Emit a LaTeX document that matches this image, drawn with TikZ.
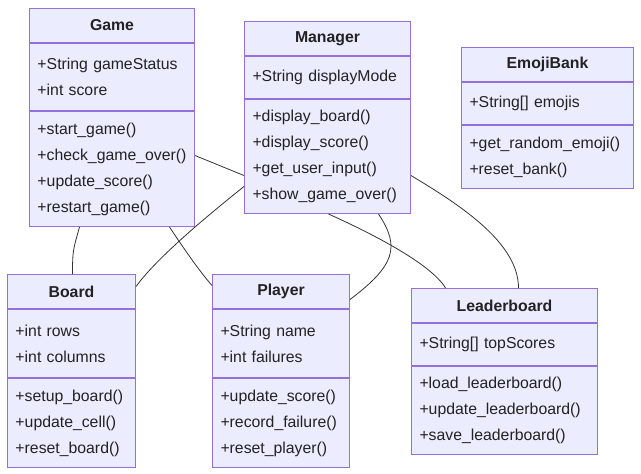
\documentclass[tikz,border=0pt]{standalone}
\usepackage{fontspec}
\setmainfont{Liberation Sans}
\usetikzlibrary{positioning}

\definecolor{umlfill}{HTML}{ECECFF}
\definecolor{umlline}{HTML}{9370DB}
\definecolor{umltext}{HTML}{222222}
\definecolor{umledge}{HTML}{333333}

\tikzset{
  cbox/.style={draw=umlline, fill=umlfill, line width=1pt, inner ysep=0pt, text=umltext},
  ctitle/.style={cbox, font=\fontsize{15.8}{26}\selectfont\bfseries, anchor=north west, inner xsep=0pt, minimum height=34pt},
  cpart/.style={cbox, font=\fontsize{15.8}{26}\selectfont, align=left, inner xsep=8pt},
  assoc/.style={draw=umledge, line width=0.8pt}
}

\begin{document}
\begin{tikzpicture}[x=1pt,y=-1pt]
\useasboundingbox (0,0) rectangle (641,474);

% Game
\node[ctitle, minimum width=165pt] (game) at (29,8) {Game};
\node[cpart, below=0pt of game, text width=149pt, minimum height=67pt] (gameattr) {+String gameStatus\\+int score};
\node[cpart, below=0pt of gameattr, text width=149pt, minimum height=115pt] (gameops) {+start\_game()\\+check\_game\_over()\\+update\_score()\\+restart\_game()};

% Manager
\node[ctitle, minimum width=166pt] (manager) at (244,21) {Manager};
\node[cpart, below=0pt of manager, text width=150pt, minimum height=42pt] (managerattr) {+String displayMode};
\node[cpart, below=0pt of managerattr, text width=150pt, minimum height=114pt] (managerops) {+display\_board()\\+display\_score()\\+get\_user\_input()\\+show\_game\_over()};

% EmojiBank
\node[ctitle, minimum width=172pt] (emoji) at (461,47) {EmojiBank};
\node[cpart, below=0pt of emoji, text width=156pt, minimum height=42pt] (emojiattr) {+String[] emojis};
\node[cpart, below=0pt of emojiattr, text width=156pt, minimum height=63pt] (emojiops) {+get\_random\_emoji()\\+reset\_bank()};

% Board
\node[ctitle, minimum width=128pt] (board) at (7,274) {Board};
\node[cpart, below=0pt of board, text width=112pt, minimum height=68pt] (boardattr) {+int rows\\+int columns};
\node[cpart, below=0pt of boardattr, text width=112pt, minimum height=89pt] (boardops) {+setup\_board()\\+update\_cell()\\+reset\_board()};

% Player
\node[ctitle, minimum width=137pt] (player) at (212,274) {Player};
\node[cpart, below=0pt of player, text width=121pt, minimum height=68pt] (playerattr) {+String name\\+int failures};
\node[cpart, below=0pt of playerattr, text width=121pt, minimum height=89pt] (playerops) {+update\_score()\\+record\_failure()\\+reset\_player()};

% Leaderboard
\node[ctitle, minimum width=186pt] (leader) at (411,288) {Leaderboard};
\node[cpart, below=0pt of leader, text width=170pt, minimum height=42pt] (leaderattr) {+String[] topScores};
\node[cpart, below=0pt of leaderattr, text width=170pt, minimum height=88pt] (leaderops) {+load\_leaderboard()\\+update\_leaderboard()\\+save\_leaderboard()};

% links
\draw[assoc] ([yshift=13.5pt]gameops.east) -- ([yshift=-19pt]managerops.west);
\draw[assoc] ([yshift=-30pt]managerops.west) .. controls +(-35,28) and +(22,-30) .. ([yshift=5pt]board.east);
\draw[assoc] ([xshift=-32.5pt]gameops.south) .. controls +(-6,22) and +(0,-25) .. ([xshift=1pt]board.north);
\draw[assoc] ([xshift=57.5pt]gameops.south) .. controls +(12,18) and +(-14,-16) .. ([yshift=6pt]player.west);
\draw[assoc] ([xshift=51pt]managerops.south) .. controls +(22,33) and +(45,-34) .. ([yshift=-8pt]player.east);
\draw[assoc] ([xshift=1pt]managerops.south) .. controls +(40,18) and +(-15,-25) .. ([xshift=-59pt]leader.north);
\draw[assoc] ([yshift=-19pt]managerops.east) .. controls +(50,30) and +(0,-45) .. ([xshift=14pt]leader.north);
\end{tikzpicture}
\end{document}
